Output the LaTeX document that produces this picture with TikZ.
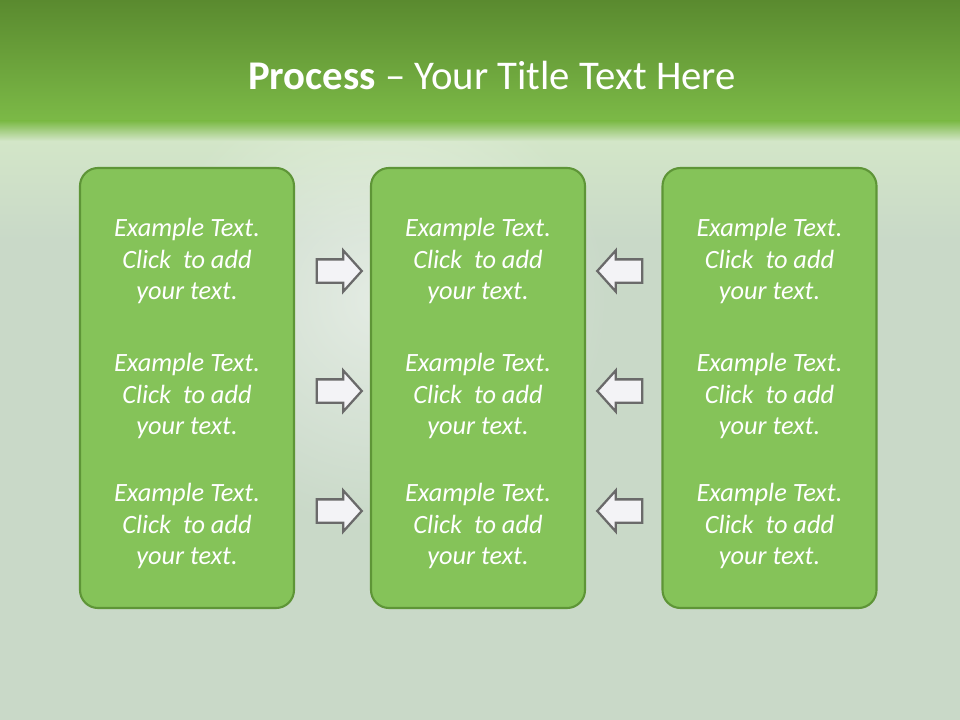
\documentclass[tikz,border=0pt]{standalone}
\usepackage{fontspec}
\setmainfont{Carlito}
\usepackage{tikz}
\usetikzlibrary{shapes.arrows, positioning, fadings}
\definecolor{bandtop}{HTML}{5A8A2F}
\definecolor{bandbot}{HTML}{7CBA47}
\definecolor{haze}{HTML}{D3E6C8}
\definecolor{bodybg}{HTML}{C9D9C8}
\definecolor{boxfill}{HTML}{85C359}
\definecolor{boxline}{HTML}{5E9537}
\definecolor{arrowfill}{HTML}{F3F3F6}
\definecolor{arrowline}{HTML}{6A6A6A}
\tikzfading[name=glow, inner color=transparent!0, outer color=transparent!100]

\begin{document}
\begin{tikzpicture}[
  x=0.2mm, y=-0.2mm,
  panel/.style={rectangle, rounded corners=0.36cm, draw=boxline, line width=1.2pt,
                fill=boxfill, minimum width=4.28cm, minimum height=8.8cm},
  txt/.style={text=white, align=center, font=\fontsize{15}{18}\selectfont\itshape},
  pointer/.style={single arrow, draw=arrowline, line width=1.3pt, fill=arrowfill,
                  minimum height=0.9cm, minimum width=0.8cm, inner sep=0.21cm,
                  single arrow head extend=0.18cm, single arrow tip angle=96},
]

% background
\useasboundingbox (0,0) rectangle (960,720);
\fill[bodybg] (0,0) rectangle (960,720);
\shade[top color=haze, bottom color=bodybg] (0,140) rectangle (960,240);
\fill[white, opacity=0.5, path fading=glow] (380,300) circle[radius=230];
\shade[top color=bandtop, bottom color=bandbot] (0,0) rectangle (960,122);
\shade[top color=bandbot, bottom color=haze] (0,121) rectangle (960,141);

\node[font=\fontsize{23.2}{27}\selectfont, text=white] (title) at (492,75)
  {\textbf{Process} -- Your Title Text Here};

\node[panel] (lbox) at (187,388) {};
\node[panel] (mbox) at (478,388) {};
\node[panel] (rbox) at (769.5,388) {};

\node[txt] (l1) at (187,261) {Example Text.\\Click~ to add\\your text.};
\node[txt] (l2) at (187,396) {Example Text.\\Click~ to add\\your text.};
\node[txt] (l3) at (187,526) {Example Text.\\Click~ to add\\your text.};
\node[txt] (m1) at (478,261) {Example Text.\\Click~ to add\\your text.};
\node[txt] (m2) at (478,396) {Example Text.\\Click~ to add\\your text.};
\node[txt] (m3) at (478,526) {Example Text.\\Click~ to add\\your text.};
\node[txt] (r1) at (769.5,261) {Example Text.\\Click~ to add\\your text.};
\node[txt] (r2) at (769.5,396) {Example Text.\\Click~ to add\\your text.};
\node[txt] (r3) at (769.5,526) {Example Text.\\Click~ to add\\your text.};

\node[pointer] (pa) at (334,271) {};
\node[pointer] (pb) at (334,391) {};
\node[pointer] (pc) at (334,511) {};
\node[pointer, shape border rotate=180] (qa) at (625,271) {};
\node[pointer, shape border rotate=180] (qb) at (625,391) {};
\node[pointer, shape border rotate=180] (qc) at (625,511) {};
\end{tikzpicture}
\end{document}
